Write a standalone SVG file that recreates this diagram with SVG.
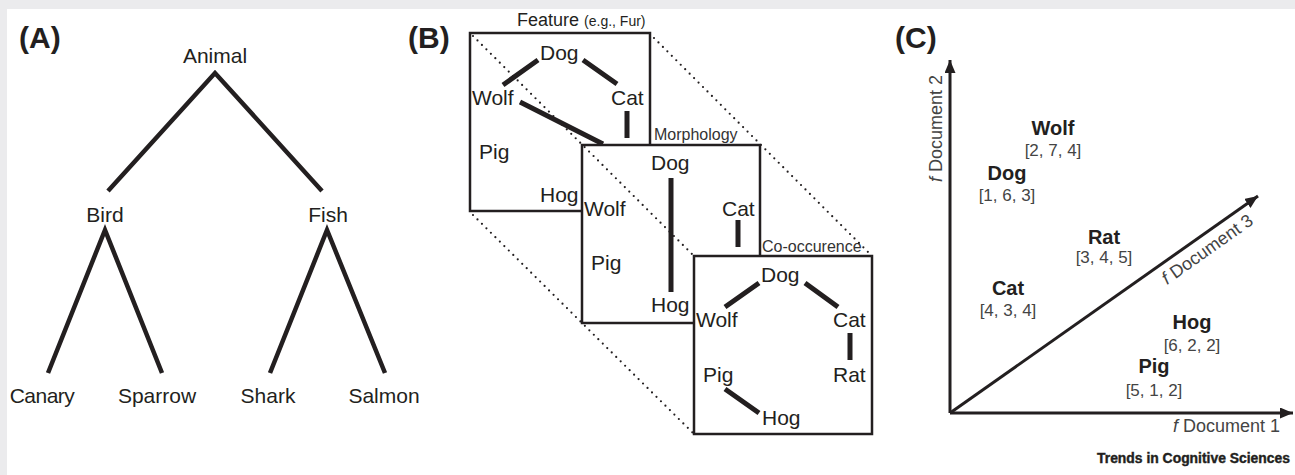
<svg xmlns="http://www.w3.org/2000/svg" width="1295" height="475" viewBox="0 0 1295 475">
<style>
text{font-family:"Liberation Sans",Arial,sans-serif;fill:#231f20}
.lbl{font-size:21px}
.pan{font-size:30px;font-weight:bold}
.tree{stroke:#231f20;stroke-width:4.5;fill:none;stroke-linecap:butt}
.edge{stroke:#231f20;stroke-width:5;fill:none}
.box{stroke:#231f20;stroke-width:2.5;fill:#fff}
.dot{stroke:#231f20;stroke-width:2.2;fill:none;stroke-linecap:round;stroke-dasharray:0 6.3}
.ax{stroke:#231f20;stroke-width:3;fill:none}
.cl{font-size:20px;font-weight:bold;text-anchor:middle}
.cv{font-size:17px;fill:#444;text-anchor:middle}
.doc{font-size:18px;fill:#444}
.sm{font-size:16px;fill:#333}
</style>
<defs>
<marker id="arr" markerUnits="userSpaceOnUse" markerWidth="14" markerHeight="12" refX="13" refY="5.5" orient="auto">
<path d="M0,0 L13,5.5 L0,11 z" fill="#231f20"/>
</marker>
</defs>
<rect x="0" y="0" width="1295" height="475" fill="#ebebed"/>
<rect x="7" y="9" width="1288" height="466" fill="#fff"/>

<!-- Panel A -->
<text class="pan" x="19" y="48">(A)</text>
<g id="connectorsA">
<path class="tree" d="M108,191 L215,73 L322,191"/>
<path class="tree" d="M48,373 L105,230 L162,373"/>
<path class="tree" d="M270,373 L327,230 L385,373"/>
</g>
<g id="animal"><text class="lbl" x="215" y="63" text-anchor="middle">Animal</text></g>
<g id="bird"><text class="lbl" x="105" y="222" text-anchor="middle">Bird</text></g>
<g id="fish"><text class="lbl" x="328" y="222" text-anchor="middle">Fish</text></g>
<g id="canary"><text class="lbl" x="42" y="403" text-anchor="middle" letter-spacing="-0.5">Canary</text></g>
<g id="sparrow"><text class="lbl" x="157" y="403" text-anchor="middle">Sparrow</text></g>
<g id="shark"><text class="lbl" x="268" y="403" text-anchor="middle">Shark</text></g>
<g id="salmon"><text class="lbl" x="384" y="403" text-anchor="middle">Salmon</text></g>

<!-- Panel B -->
<text class="pan" x="408" y="48">(B)</text>
<text x="517" y="26" font-size="18" fill="#333">Feature <tspan font-size="14">(e.g., Fur)</tspan></text>
<g id="box-feature">
<rect class="box" x="470" y="33" width="180" height="178"/>
<path class="edge" d="M538,60 L503,85 M583,60 L617,84 M627,111 L627,138 M520,102 L603,144"/>
<text class="lbl" x="540" y="60">Dog</text>
<text class="lbl" x="472" y="105">Wolf</text>
<text class="lbl" x="611" y="105">Cat</text>
<text class="lbl" x="479" y="159">Pig</text>
<text class="lbl" x="540" y="202">Hog</text>
</g>
<text class="sm" x="654" y="140">Morphology</text>
<g id="box-morphology">
<rect class="box" x="582" y="145" width="178" height="178"/>
<path class="edge" d="M671,178 L671,292 M738,220 L738,247"/>
<text class="lbl" x="651" y="170">Dog</text>
<text class="lbl" x="584" y="216">Wolf</text>
<text class="lbl" x="722" y="216">Cat</text>
<text class="lbl" x="591" y="270">Pig</text>
<text class="lbl" x="651" y="312">Hog</text>
</g>
<text class="sm" x="762" y="252">Co-occurence</text>
<g id="box-cooccurence">
<rect class="box" x="694" y="256" width="178" height="178"/>
<path class="edge" d="M759,283 L725,307 M805,283 L838,307 M850,333 L850,360 M725,389 L759,413"/>
<text class="lbl" x="761" y="282">Dog</text>
<text class="lbl" x="696" y="327">Wolf</text>
<text class="lbl" x="833" y="327">Cat</text>
<text class="lbl" x="703" y="382">Pig</text>
<text class="lbl" x="833" y="382">Rat</text>
<text class="lbl" x="762" y="425">Hog</text>
</g>
<g id="connectorsB">
<path class="dot" d="M473,36 L694,256"/>
<path class="dot" d="M654,38 L872,256"/>
<path class="dot" d="M473,215 L694,434"/>
</g>

<!-- Panel C -->
<text class="pan" x="895" y="48">(C)</text>
<g id="axes">
<path class="ax" d="M950,413 L950,60" marker-end="url(#arr)"/>
<path class="ax" d="M950,413 L1293,413" marker-end="url(#arr)"/>
<path class="ax" d="M950,413 L1258,196" marker-end="url(#arr)"/>
</g>
<text class="doc" x="942" y="182" transform="rotate(-90 942 182)"><tspan font-style="italic">f</tspan> Document 2</text>
<text class="doc" x="1173" y="432"><tspan font-style="italic">f</tspan> Document 1</text>
<text class="doc" x="1167" y="285" transform="rotate(-35.2 1167 285)"><tspan font-style="italic">f</tspan> Document 3</text>
<g id="c-wolf"><text class="cl" x="1053" y="135">Wolf</text><text class="cv" x="1053" y="156">[2, 7, 4]</text></g>
<g id="c-dog"><text class="cl" x="1007" y="180">Dog</text><text class="cv" x="1007" y="201">[1, 6, 3]</text></g>
<g id="c-rat"><text class="cl" x="1104" y="244">Rat</text><text class="cv" x="1104" y="263">[3, 4, 5]</text></g>
<g id="c-cat"><text class="cl" x="1008" y="295">Cat</text><text class="cv" x="1008" y="316">[4, 3, 4]</text></g>
<g id="c-hog"><text class="cl" x="1192" y="329">Hog</text><text class="cv" x="1192" y="351">[6, 2, 2]</text></g>
<g id="c-pig"><text class="cl" x="1154" y="373">Pig</text><text class="cv" x="1154" y="396">[5, 1, 2]</text></g>
<text x="1290" y="463" font-size="13.9" font-weight="bold" text-anchor="end" stroke="#231f20" stroke-width="0.4">Trends in Cognitive Sciences</text>
</svg>
